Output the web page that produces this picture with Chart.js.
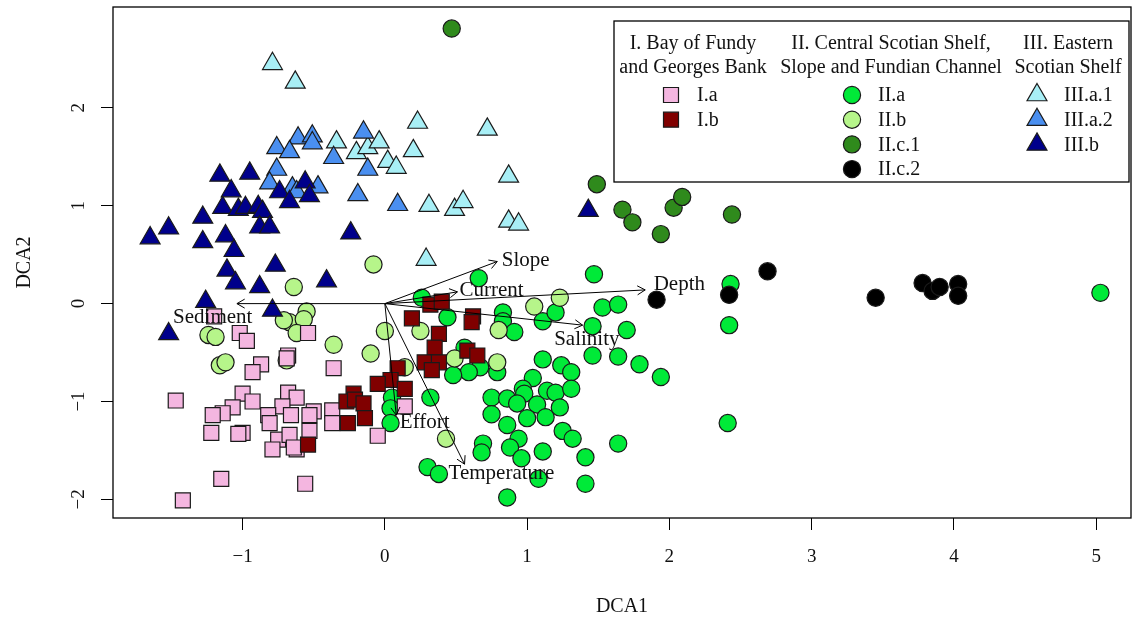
<!DOCTYPE html>
<html>
<head>
<meta charset="utf-8">
<script src="https://cdn.jsdelivr.net/npm/chart.js@4.4.0/dist/chart.umd.min.js"></script>
<style>
html, body { margin: 0; padding: 0; background: #fff; }
</style>
</head>
<body>
<canvas id="dca" width="1133" height="622"></canvas>
<script>
// site scores [DCA1, DCA2], one array per group
const ptsIa = [
  [-1.20,-0.13],[-1.02,-0.30],[-0.97,-0.38],[-0.54,-0.30],[-0.68,-0.53],[-0.69,-0.56],[-0.87,-0.62],[-0.93,-0.70],
  [-0.36,-0.66],[-1.47,-0.99],[-1.00,-0.92],[-0.93,-1.00],[-0.68,-0.91],[-0.62,-0.96],[-0.72,-1.05],[-0.66,-1.14],
  [-0.82,-1.14],[-0.81,-1.22],[-0.50,-1.10],[-0.53,-1.14],[-0.37,-1.09],[-0.37,-1.22],[-1.07,-1.06],[-1.14,-1.12],
  [-1.21,-1.14],[-1.22,-1.32],[-1.00,-1.32],[-1.03,-1.33],[-0.75,-1.39],[-0.67,-1.34],[-0.53,-1.30],[-0.79,-1.49],
  [-0.62,-1.49],[-0.64,-1.47],[-0.05,-1.35],[0.14,-1.05],[-1.15,-1.79],[-0.56,-1.84],[-1.42,-2.01]
]
const ptsIb = [
  [0.32,-0.01],[0.40,0.02],[0.19,-0.15],[0.62,-0.13],[0.61,-0.19],[0.38,-0.31],[0.35,-0.45],[0.28,-0.60],
  [0.38,-0.60],[0.33,-0.68],[0.58,-0.48],[0.65,-0.53],[0.09,-0.66],[0.04,-0.78],[-0.05,-0.82],[0.14,-0.87],
  [-0.22,-0.92],[-0.27,-1.00],[-0.21,-0.98],[-0.15,-1.02],[-0.14,-1.17],[-0.26,-1.22],[-0.54,-1.44]
]
const ptsIIa = [
  [0.66,0.26],[1.47,0.30],[0.26,0.06],[0.44,-0.14],[0.83,-0.09],[0.83,-0.18],[0.91,-0.29],[1.11,-0.18],
  [1.20,-0.09],[1.53,-0.04],[1.64,-0.01],[1.46,-0.23],[1.70,-0.27],[1.46,-0.53],[1.64,-0.54],[1.79,-0.62],
  [1.94,-0.75],[1.11,-0.57],[1.24,-0.63],[1.31,-0.70],[1.04,-0.76],[0.56,-0.45],[0.67,-0.65],[0.59,-0.70],
  [0.48,-0.73],[0.79,-0.70],[0.97,-0.87],[1.14,-0.89],[1.20,-0.91],[1.31,-0.87],[0.75,-0.96],[0.86,-0.97],
  [0.98,-0.92],[1.07,-1.03],[0.93,-1.02],[1.23,-1.06],[1.13,-1.16],[1.00,-1.17],[0.86,-1.24],[0.75,-1.13],
  [0.32,-0.96],[0.05,-0.96],[0.04,-1.07],[0.04,-1.22],[1.25,-1.30],[1.32,-1.38],[0.94,-1.38],[0.88,-1.47],
  [0.69,-1.43],[0.68,-1.52],[0.96,-1.58],[1.11,-1.51],[1.41,-1.57],[1.64,-1.43],[0.30,-1.67],[0.38,-1.74],
  [1.08,-1.79],[1.41,-1.84],[0.86,-1.98],[2.43,0.20],[2.42,-0.22],[2.41,-1.22],[5.03,0.11]
]
const ptsIIb = [
  [-0.08,0.40],[-0.64,0.17],[-0.55,-0.08],[-0.67,-0.19],[-0.57,-0.16],[-0.62,-0.30],[-0.71,-0.17],[-1.24,-0.32],
  [-1.19,-0.34],[-1.16,-0.63],[-1.12,-0.60],[-0.69,-0.58],[-0.36,-0.42],[-0.10,-0.51],[0.00,-0.28],[0.25,-0.28],
  [0.14,-0.65],[0.49,-0.56],[0.79,-0.60],[1.05,-0.03],[1.23,0.06],[0.80,-0.27],[0.43,-1.38]
]
const ptsIIc1 = [
  [0.47,2.81],[1.49,1.22],[1.67,0.96],[1.74,0.83],[2.03,0.98],[2.09,1.09],[1.94,0.71],[2.44,0.91]
]
const ptsIIc2 = [
  [1.91,0.04],[2.42,0.09],[2.69,0.33],[3.45,0.06],[3.78,0.21],[3.85,0.13],[3.90,0.17],[4.03,0.20],[4.03,0.08]
]
const ptsIIIa1 = [
  [-0.79,2.45],[-0.63,2.26],[0.23,1.85],[0.72,1.78],[0.20,1.56],[-0.34,1.65],[-0.20,1.54],[-0.12,1.59],
  [-0.04,1.65],[0.02,1.45],[0.08,1.39],[0.87,1.30],[0.31,1.00],[0.49,0.96],[0.55,1.04],[0.87,0.84],
  [0.94,0.81],[0.29,0.45]
]
const ptsIIIa2 = [
  [-0.76,1.59],[-0.61,1.69],[-0.67,1.55],[-0.51,1.71],[-0.51,1.64],[-0.36,1.49],[-0.15,1.75],[-0.12,1.37],
  [-0.76,1.37],[-0.81,1.23],[-0.65,1.18],[-0.62,1.14],[-0.47,1.19],[-0.19,1.11],[0.09,1.01]
]
const ptsIIIb = [
  [-1.16,1.31],[-0.95,1.33],[-1.08,1.15],[-1.14,0.98],[-1.03,0.96],[-0.98,0.98],[-0.89,0.99],[-0.86,0.94],
  [-1.28,0.88],[-1.52,0.77],[-1.65,0.67],[-1.28,0.63],[-1.12,0.69],[-1.06,0.54],[-0.88,0.78],[-0.81,0.78],
  [-0.74,1.14],[-0.67,1.04],[-0.56,1.24],[-0.53,1.10],[-0.24,0.72],[-0.77,0.39],[-1.11,0.34],[-1.05,0.21],
  [-0.88,0.17],[-0.41,0.23],[-1.26,0.02],[-0.79,-0.07],[-1.52,-0.31],[1.43,0.95]
]

// environmental vectors (fitted arrows) and where their labels sit
const envNames = ['Slope', 'Current', 'Depth', 'Salinity', 'Sediment', 'Effort', 'Temperature']
const envTips = [[0.79,0.43],[0.51,0.12],[1.83,0.14],[1.39,-0.22],[-1.04,0.00],[0.08,-1.14],[0.56,-1.64]]
const envLabels = [[0.99,0.44],[0.75,0.13],[2.07,0.20],[1.42,-0.37],[-1.21,-0.14],[0.28,-1.21],[0.82,-1.74]]

const xTicks = [-1, 0, 1, 2, 3, 4, 5]
const yTicks = [-2, -1, 0, 1, 2]

const groupNames = ['I.a', 'I.b', 'II.a', 'II.b', 'II.c.1', 'II.c.2', 'III.a.1', 'III.a.2', 'III.b']
const groupData = [ptsIa, ptsIb, ptsIIa, ptsIIb, ptsIIc1, ptsIIc2, ptsIIIa1, ptsIIIa2, ptsIIIb]
const groupColors = ['#f4b6e0', '#800000', '#00ea38', '#b6f58a', '#2f8a1c', '#000000', '#a8eff6', '#4a8ff0', '#00008b']
const groupShapes = ['rect', 'rect', 'circle', 'circle', 'circle', 'circle', 'triangle', 'triangle', 'triangle']
const legendHeads = [
  ['I. Bay of Fundy', 'and Georges Bank'],
  ['II. Central Scotian Shelf,', 'Slope and Fundian Channel'],
  ['III. Eastern', 'Scotian Shelf']
]
const legendColumns = [[0, 1], [2, 3, 4, 5], [6, 7, 8]]

const serif = 'Liberation Serif, Times New Roman, serif'
const sizeFor = {rect: 10.6, circle: 8.6, triangle: 11.5}

// draw order: first dataset is drawn on top
const drawOrder = [8, 7, 6, 1, 0, 5, 4, 3, 2]
const datasets = drawOrder.map(g => ({
  label: groupNames[g],
  data: groupData[g].map(p => ({x: p[0], y: p[1]})),
  pointStyle: groupShapes[g],
  pointRadius: sizeFor[groupShapes[g]],
  pointHoverRadius: sizeFor[groupShapes[g]],
  backgroundColor: groupColors[g],
  borderColor: '#1a1a1a',
  borderWidth: 1.2
}))

function minusLabel(v) {
  return v < 0 ? '\u2212' + Math.abs(v) : String(v)
}

// no extra room for edge labels: keep the box where R puts it
function noPad(s) {
  s.paddingTop = 0
  s.paddingBottom = 0
  s.paddingLeft = 0
  s.paddingRight = 0
}

const rPlot = {
  id: 'rPlot',
  beforeDraw(chart) {
    const ctx = chart.ctx
    ctx.save()
    ctx.fillStyle = '#fff'
    ctx.fillRect(0, 0, chart.width, chart.height)
    ctx.restore()
  },
  afterDatasetsDraw(chart) {
    const ctx = chart.ctx
    const xs = chart.scales.x, ys = chart.scales.y
    const ox = xs.getPixelForValue(0), oy = ys.getPixelForValue(0)
    ctx.save()
    ctx.strokeStyle = '#000'
    ctx.lineWidth = 1
    // arrows
    for (let i = 0; i < envNames.length; i++) {
      const tx = xs.getPixelForValue(envTips[i][0])
      const ty = ys.getPixelForValue(envTips[i][1])
      const a = Math.atan2(ty - oy, tx - ox)
      const hl = 9
      ctx.beginPath()
      ctx.moveTo(ox, oy)
      ctx.lineTo(tx, ty)
      ctx.moveTo(tx - hl * Math.cos(a - Math.PI / 6), ty - hl * Math.sin(a - Math.PI / 6))
      ctx.lineTo(tx, ty)
      ctx.lineTo(tx - hl * Math.cos(a + Math.PI / 6), ty - hl * Math.sin(a + Math.PI / 6))
      ctx.stroke()
    }
    ctx.fillStyle = '#111'
    ctx.font = '21px ' + serif
    ctx.textAlign = 'center'
    ctx.textBaseline = 'middle'
    for (let i = 0; i < envNames.length; i++) {
      ctx.fillText(envNames[i], xs.getPixelForValue(envLabels[i][0]), ys.getPixelForValue(envLabels[i][1]))
    }
    ctx.restore()
  },
  afterDraw(chart) {
    const ctx = chart.ctx
    const area = chart.chartArea
    ctx.save()
    // plot box
    ctx.strokeStyle = '#000'
    ctx.lineWidth = 1.3
    ctx.strokeRect(area.left, area.top, area.right - area.left, area.bottom - area.top)

    // legend box
    const lx = 614, ly = 21, lw = 515, lh = 161
    ctx.fillStyle = '#fff'
    ctx.fillRect(lx, ly, lw, lh)
    ctx.strokeRect(lx, ly, lw, lh)

    const headX = [693, 891, 1068]
    const markX = [671, 852, 1037]
    const textX = [697, 878, 1064]
    ctx.font = '20px ' + serif
    ctx.fillStyle = '#111'
    ctx.textBaseline = 'middle'
    for (let c = 0; c < legendHeads.length; c++) {
      ctx.textAlign = 'center'
      ctx.fillText(legendHeads[c][0], headX[c], 44)
      ctx.fillText(legendHeads[c][1], headX[c], 68)
      legendColumns[c].forEach((g, r) => {
        const y = 95 + r * 24.7
        ctx.fillStyle = groupColors[g]
        ctx.strokeStyle = '#1a1a1a'
        ctx.lineWidth = 1.2
        Chart.helpers.drawPoint(ctx, {pointStyle: groupShapes[g], radius: sizeFor[groupShapes[g]], borderWidth: 1.2}, markX[c], y)
        ctx.fillStyle = '#111'
        ctx.textAlign = 'left'
        ctx.fillText(groupNames[g], textX[c], y + 1)
      })
    }
    ctx.restore()
  }
}

new Chart(document.getElementById('dca'), {
  type: 'scatter',
  data: { datasets: datasets },
  plugins: [rPlot],
  options: {
    responsive: false,
    animation: false,
    devicePixelRatio: 1,
    layout: { autoPadding: false, padding: { left: 0, right: 2, top: 7, bottom: 0 } },
    plugins: { legend: { display: false }, tooltip: { enabled: false } },
    scales: {
      x: {
        type: 'linear',
        min: -1.911,
        max: 5.245,
        afterBuildTicks: s => { s.ticks = xTicks.map(v => ({ value: v })) },
        afterFit: s => { s.height = 104; noPad(s) },
        border: { display: false },
        grid: { drawOnChartArea: false, drawTicks: true, tickLength: 12, color: '#000', lineWidth: 1 },
        ticks: { color: '#111', font: { family: serif, size: 19 }, padding: 16, maxRotation: 0, callback: v => minusLabel(v) },
        title: { display: true, text: 'DCA1', color: '#111', font: { family: serif, size: 20 }, padding: { top: 0, bottom: 3 } }
      },
      y: {
        type: 'linear',
        min: -2.19,
        max: 3.03,
        afterBuildTicks: s => { s.ticks = yTicks.map(v => ({ value: v })) },
        afterFit: s => { s.width = 113; noPad(s) },
        border: { display: false },
        grid: { drawOnChartArea: false, drawTicks: true, tickLength: 12, color: '#000', lineWidth: 1 },
        ticks: { color: '#111', font: { family: serif, size: 19 }, padding: 12, minRotation: 90, maxRotation: 90, crossAlign: 'center', callback: v => minusLabel(v) },
        title: { display: true, text: 'DCA2', color: '#111', font: { family: serif, size: 20 }, padding: { top: 13, bottom: 0 } }
      }
    }
  }
})
</script>
</body>
</html>
